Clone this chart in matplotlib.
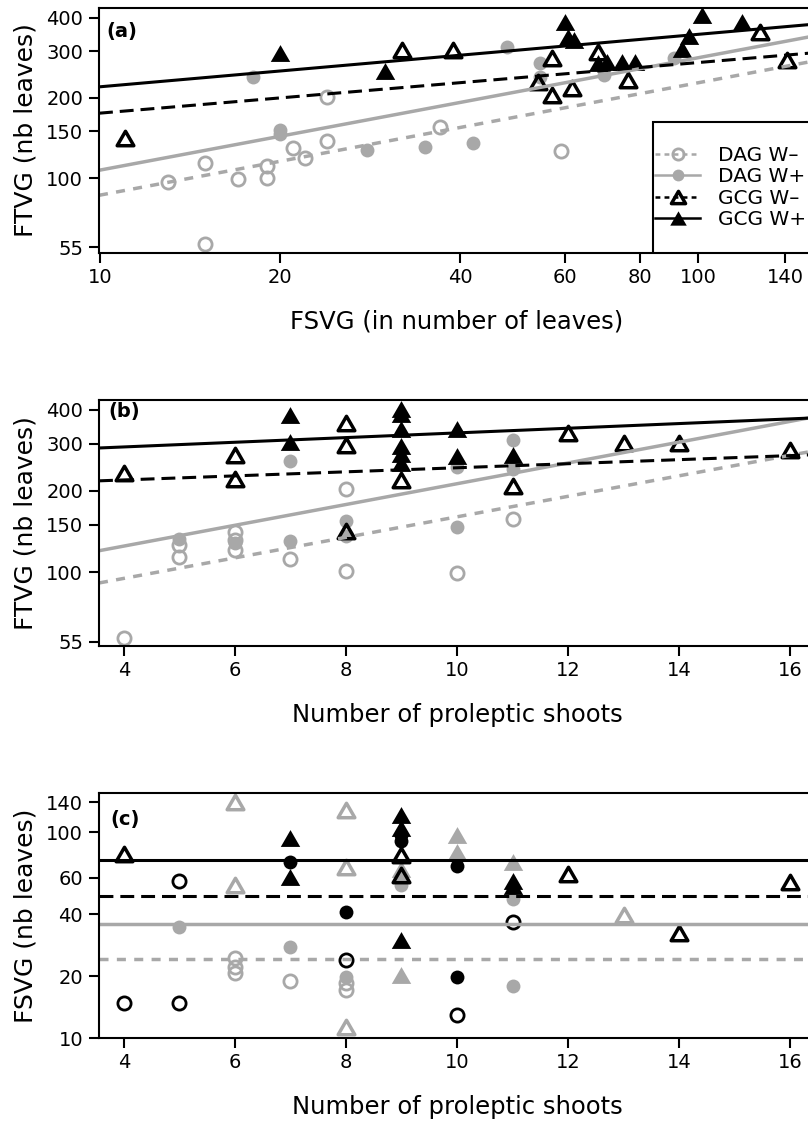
import matplotlib
matplotlib.use("Agg")
import matplotlib.pyplot as plt
import numpy as np
from matplotlib.lines import Line2D
from matplotlib.markers import MarkerStyle
from matplotlib.patches import Rectangle
from matplotlib.path import Path
from matplotlib.ticker import FixedFormatter, FixedLocator, NullLocator

plt.rcParams["font.family"] = ["DejaVu Sans"]
plt.rcParams["lines.scale_dashes"] = False

W, H = 808, 1124
GREY = "#a8a8a8"

# ----------------------------
# panel (a): FTVG vs FSVG (log-log)
# ----------------------------
A_DAGM_X = [13, 15, 15, 17, 19, 19, 21, 22, 24, 24, 37, 59]
A_DAGM_Y = [97, 114, 56.5, 99, 111, 100, 130, 119, 201, 138, 155, 126]
A_DAGP_X = [18, 20, 20, 28, 35, 42, 48, 54.5, 54.5, 69.5, 91]
A_DAGP_Y = [240, 152, 146, 128, 131, 135, 310, 271, 240, 244, 282]
A_GCGM_X = [11, 32, 39, 57, 54, 57, 61.5, 68, 76.5, 127, 141]
A_GCGM_Y = [141, 303, 303, 282, 230, 205, 218, 298, 233, 354, 277]
A_GCGP_X = [20, 30, 60, 60.5, 62, 68, 70.5, 74.5, 78.5, 94, 96.5, 101.5, 118.5]
A_GCGP_Y = [295, 252, 385, 339, 330, 270, 273, 273, 273, 305, 342, 410, 385]
# log10(y) = a + b * log10(x), order DAG W-, DAG W+, GCG W-, GCG W+
A_LINE_A = [1.514, 1.608, 2.054, 2.146]
A_LINE_B = [0.422, 0.422, 0.190, 0.197]

# ----------------------------
# panel (b): FTVG vs number of proleptic shoots
# ----------------------------
B_DAGM_X = [4, 5, 5, 6, 6, 6, 7, 8, 8, 10, 11]
B_DAGM_Y = [57, 126, 114, 141, 131, 121, 112, 203, 101, 99, 157]
B_DAGP_X = [5, 6, 7, 7, 8, 8, 10, 10, 11, 11]
B_DAGP_Y = [133, 128, 258, 130, 155, 136, 246, 147, 310, 242]
B_GCGM_X = [4, 6, 6, 8, 8, 8, 9, 11, 12, 13, 14, 16]
B_GCGM_Y = [233, 272, 222, 358, 296, 142, 220, 209, 329, 302, 302, 284]
B_GCGP_X = [7, 7, 9, 9, 9, 9, 9, 9, 10, 10, 11]
B_GCGP_Y = [384, 304, 405, 385, 340, 295, 275, 255, 340, 270, 272]
# log10(y) = a + b * x
B_LINE_A = [1.824, 1.942, 2.312, 2.430]
B_LINE_B = [0.0381, 0.0386, 0.00753, 0.00868]

# ----------------------------
# panel (c): FSVG vs number of proleptic shoots
# ----------------------------
C_GREY_OC_X = [6, 6, 6, 7, 8, 8]
C_GREY_OC_Y = [24.4, 22.1, 20.7, 18.9, 18.6, 17.1]
C_GREY_FC_X = [5, 7, 8, 9, 9, 11, 11]
C_GREY_FC_Y = [34.5, 27.7, 19.8, 58.4, 55.4, 47.3, 17.9]
C_BLACK_OC_X = [4, 5, 5, 8, 10, 11]
C_BLACK_OC_Y = [14.8, 57.8, 14.8, 23.9, 12.9, 36.6]
C_BLACK_FC_X = [7, 8, 9, 9, 10, 10]
C_BLACK_FC_Y = [71.4, 40.9, 96.7, 91, 68.5, 19.8]
C_BLACK_OT_X = [4, 9, 9, 12, 14, 16]
C_BLACK_OT_Y = [78.2, 77.5, 62, 62.5, 32.3, 57.1]
C_BLACK_FT_X = [7, 7, 9, 9, 9, 11, 11]
C_BLACK_FT_Y = [93.4, 60.4, 121, 105, 29.9, 58, 55]
C_GREY_OT_X = [6, 6, 8, 8, 8, 13]
C_GREY_OT_Y = [139.6, 55.3, 127.8, 67.6, 11.3, 39.5]
C_GREY_FT_X = [9, 9, 10, 10, 11]
C_GREY_FT_Y = [20.2, 66, 96.7, 80, 71.4]
C_HLINES = [24.2, 35.8, 48.9, 73.1]

GROUPS = ["DAG W\u2013", "DAG W+", "GCG W\u2013", "GCG W+"]
G_COLOR = [GREY, GREY, "black", "black"]
G_SHAPE = ["o", "o", "t", "t"]
G_FILLED = [False, True, False, True]
G_DASHED = [True, False, True, False]

TRI = MarkerStyle(Path([(0, 0.433), (-0.5, -0.433), (0.5, -0.433), (0, 0.433)],
                       [Path.MOVETO, Path.LINETO, Path.LINETO, Path.CLOSEPOLY]),
                  joinstyle="miter")


def marker_kw(color, shape, filled, scale=1.0):
    if shape == "o":
        return dict(marker="o", ms=(10 if filled else 9.5) * scale,
                    mfc=color if filled else "none", mec=color,
                    mew=0 if filled else 2)
    return dict(marker=TRI, ms=(14 if filled else 12) * scale,
                mfc=color if filled else "none", mec=color,
                mew=0 if filled else 2.5)


def line_kw(color, dashed):
    if color == "black":
        ls = (0, (10, 5)) if dashed else "-"
        return dict(color=color, lw=2.2, ls=ls)
    ls = (0, (6.5, 6)) if dashed else "-"
    return dict(color=color, lw=2.5, ls=ls)


def make_axes(fig, top, bottom, left=99, right=815):
    return fig.add_axes([left / W, 1 - bottom / H, (right - left) / W, (bottom - top) / H])


def style_axes(ax, xticks, yticks, ylabel, xlabel, xlog):
    if xlog:
        ax.set_xscale("log")
    ax.set_yscale("log")
    ax.xaxis.set_major_locator(FixedLocator(xticks))
    ax.xaxis.set_major_formatter(FixedFormatter([str(t) for t in xticks]))
    ax.yaxis.set_major_locator(FixedLocator(yticks))
    ax.yaxis.set_major_formatter(FixedFormatter([str(t) for t in yticks]))
    ax.xaxis.set_minor_locator(NullLocator())
    ax.yaxis.set_minor_locator(NullLocator())
    ax.tick_params(axis="both", direction="out", length=7.5, width=1.5,
                   labelsize=14, color="black")
    ax.tick_params(axis="x", pad=3)
    ax.tick_params(axis="y", pad=4)
    for s in ax.spines.values():
        s.set_linewidth(1.5)
    ax.set_xlabel(xlabel, fontsize=17.5, va="baseline")
    ax.xaxis.set_label_coords(0.5, -76 / 245)
    ax.set_ylabel(ylabel, fontsize=18, va="baseline")
    ax.yaxis.set_label_coords((33 - 99) / 716, 0.5)


fig = plt.figure(figsize=(W / 100, H / 100), dpi=100)

# ---- (a) ----
ax = make_axes(fig, 8, 253)
ax.set_xlim(9.96, 156.9)
ax.set_ylim(52.3, 435.5)
a_x = [A_DAGM_X, A_DAGP_X, A_GCGM_X, A_GCGP_X]
a_y = [A_DAGM_Y, A_DAGP_Y, A_GCGM_Y, A_GCGP_Y]
for i in range(4):
    ax.plot(a_x[i], a_y[i], ls="none", **marker_kw(G_COLOR[i], G_SHAPE[i], G_FILLED[i]))
xs = np.array(ax.get_xlim())
for i in range(4):
    ax.plot(xs, 10 ** (A_LINE_A[i] + A_LINE_B[i] * np.log10(xs)),
            **line_kw(G_COLOR[i], G_DASHED[i]))
style_axes(ax, [10, 20, 40, 60, 80, 100, 140], [55, 100, 150, 200, 300, 400],
           "FTVG (nb leaves)", "FSVG (in number of leaves)", True)
ax.text(0.0098, 0.943, "(a)", transform=ax.transAxes, fontsize=14,
        fontweight="bold", ha="left", va="top")

# legend, frame drawn by hand so it sits on the bottom axis
leg_left = (653 - 99) / 716
ax.add_patch(Rectangle((leg_left, 0), 1, (253 - 122) / 245, transform=ax.transAxes,
                       fc="white", ec="black", lw=1.5, zorder=5))
handles = []
for i in range(4):
    lk = line_kw(G_COLOR[i], G_DASHED[i])
    lk["ls"] = (0, (3.5, 3)) if G_DASHED[i] else "-"
    lk["lw"] = 1.8
    handles.append(Line2D([], [], **lk, **marker_kw(G_COLOR[i], G_SHAPE[i], G_FILLED[i], 0.85)))
leg = ax.legend(handles, GROUPS, loc="center left", bbox_to_anchor=(leg_left, (253 - 187.5) / 245),
                frameon=False, fontsize=14.5, borderpad=0.1, labelspacing=0.13,
                handlelength=2.25, handletextpad=0.9, numpoints=1, borderaxespad=0)
leg.set_zorder(6)

# ---- (b) ----
ax = make_axes(fig, 400, 646)
ax.set_xlim(3.55, 16.45)
ax.set_ylim(53.1, 435.6)
b_x = [B_DAGM_X, B_DAGP_X, B_GCGM_X, B_GCGP_X]
b_y = [B_DAGM_Y, B_DAGP_Y, B_GCGM_Y, B_GCGP_Y]
for i in range(4):
    ax.plot(b_x[i], b_y[i], ls="none", **marker_kw(G_COLOR[i], G_SHAPE[i], G_FILLED[i]))
xs = np.array(ax.get_xlim())
for i in range(4):
    ax.plot(xs, 10 ** (B_LINE_A[i] + B_LINE_B[i] * xs), **line_kw(G_COLOR[i], G_DASHED[i]))
style_axes(ax, [4, 6, 8, 10, 12, 14, 16], [55, 100, 150, 200, 300, 400],
           "FTVG (nb leaves)", "Number of proleptic shoots", False)
ax.text(0.0126, 0.992, "(b)", transform=ax.transAxes, fontsize=14,
        fontweight="bold", ha="left", va="top")

# ---- (c) ----
ax = make_axes(fig, 793, 1038)
ax.set_xlim(3.55, 16.45)
ax.set_ylim(10, 155)
c_series = [
    (C_GREY_OC_X, C_GREY_OC_Y, GREY, "o", False),
    (C_GREY_FC_X, C_GREY_FC_Y, GREY, "o", True),
    (C_GREY_OT_X, C_GREY_OT_Y, GREY, "t", False),
    (C_GREY_FT_X, C_GREY_FT_Y, GREY, "t", True),
    (C_BLACK_OC_X, C_BLACK_OC_Y, "black", "o", False),
    (C_BLACK_FC_X, C_BLACK_FC_Y, "black", "o", True),
    (C_BLACK_OT_X, C_BLACK_OT_Y, "black", "t", False),
    (C_BLACK_FT_X, C_BLACK_FT_Y, "black", "t", True),
]
for x, y, col, shp, fil in c_series:
    ax.plot(x, y, ls="none", **marker_kw(col, shp, fil))
for i in range(4):
    ax.axhline(C_HLINES[i], **line_kw(G_COLOR[i], G_DASHED[i]))
style_axes(ax, [4, 6, 8, 10, 12, 14, 16], [10, 20, 40, 60, 100, 140],
           "FSVG (nb leaves)", "Number of proleptic shoots", False)
ax.text(0.0154, 0.931, "(c)", transform=ax.transAxes, fontsize=14,
        fontweight="bold", ha="left", va="top")

fig.savefig("out.png", dpi=100)
